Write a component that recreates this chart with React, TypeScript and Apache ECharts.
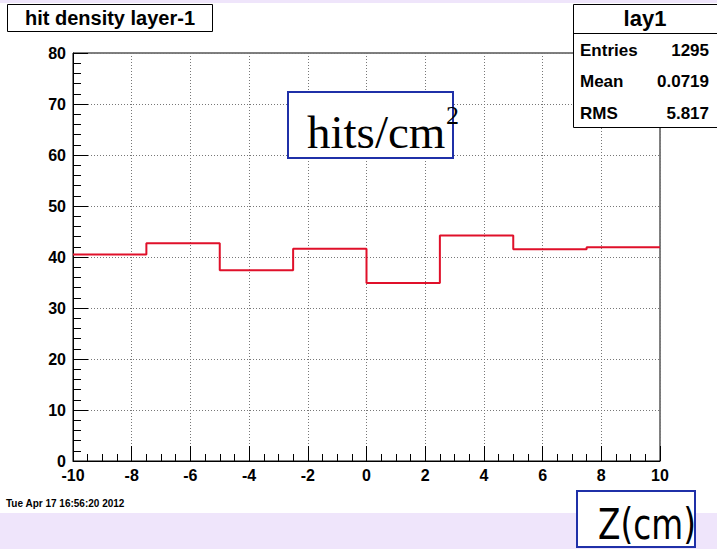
import React, { useEffect, useRef } from "react";
import * as echarts from "echarts";

// Histogram bins of hit density (hits/cm^2) along Z for layer 1
const binEdges = [-10, -7.5, -5, -2.5, 0, 2.5, 5, 7.5, 10];
const binValues = [40.5, 42.7, 37.4, 41.6, 34.9, 44.2, 41.5, 41.9];

const statLabels = ["Entries", "Mean", "RMS"];
const statValues = ["1295", "0.0719", "5.817"];

const histTitle = "hit density layer-1";
const statTitle = "lay1";
const dateStamp = "Tue Apr 17 16:56:20 2012";

export default function App() {
  const ref = useRef<HTMLDivElement>(null);

  useEffect(() => {
    if (!ref.current) return;
    const chart = echarts.init(ref.current, null, { renderer: "svg" });

    // step outline: one point per bin left edge, plus the closing right edge
    const stepData: [number, number][] = binValues.map((v, i) => [binEdges[i], v]);
    stepData.push([binEdges[binEdges.length - 1], binValues[binValues.length - 1]]);

    const axisFont = {
      color: "#000",
      fontFamily: "Liberation Sans, Arial, sans-serif",
      fontWeight: "bold" as const,
      fontSize: 16,
    };
    const dotted = { lineStyle: { color: "#777", type: [1, 2] as number[], width: 1 } };

    const statRows = statLabels.flatMap((lab, i) => [
      {
        type: "text",
        x: 580,
        y: 50 + i * 31.5,
        z: 20,
        style: {
          text: lab,
          fill: "#000",
          font: "bold 17px 'Liberation Sans', Arial, sans-serif",
          align: "left",
          verticalAlign: "middle",
        },
      },
      {
        type: "text",
        x: 709,
        y: 50 + i * 31.5,
        z: 20,
        style: {
          text: statValues[i],
          fill: "#000",
          font: "bold 17px 'Liberation Sans', Arial, sans-serif",
          align: "right",
          verticalAlign: "middle",
        },
      },
    ]);

    chart.setOption({
      animation: false,
      backgroundColor: "#efe5fb",
      grid: {
        left: 73,
        right: 57,
        top: 53,
        bottom: 88,
        show: true,
        backgroundColor: "#fff",
        borderColor: "#000",
        borderWidth: 1,
      },
      xAxis: {
        type: "value",
        min: -10,
        max: 10,
        interval: 2,
        axisLine: { show: true, onZero: false, lineStyle: { color: "#000", width: 1 } },
        axisTick: { show: true, inside: true, length: 15, lineStyle: { color: "#000" } },
        minorTick: { show: true, splitNumber: 4, length: 7, lineStyle: { color: "#000" } },
        axisLabel: { ...axisFont, margin: 6 },
        splitLine: { show: true, ...dotted },
      },
      yAxis: {
        type: "value",
        min: 0,
        max: 80,
        interval: 10,
        axisLine: { show: true, onZero: false, lineStyle: { color: "#000", width: 1 } },
        axisTick: { show: true, inside: true, length: 15, lineStyle: { color: "#000" } },
        minorTick: { show: true, splitNumber: 5, length: 8, lineStyle: { color: "#000" } },
        axisLabel: { ...axisFont, margin: 7 },
        splitLine: { show: true, ...dotted },
      },
      series: [
        {
          type: "line",
          step: "end",
          data: stepData,
          symbol: "none",
          lineStyle: { color: "#e0102a", width: 2 },
          z: 5,
        },
      ],
      graphic: [
        // white ROOT canvas above the lavender slide background
        { type: "rect", z: -10, shape: { x: 0, y: 3, width: 717, height: 510 }, style: { fill: "#fff" }, silent: true },
        // histogram title box
        {
          type: "rect",
          z: 20,
          shape: { x: 7.5, y: 4.5, width: 205, height: 27 },
          style: { fill: "#fff", stroke: "#000", lineWidth: 1 },
        },
        {
          type: "text",
          x: 110,
          y: 18,
          z: 21,
          style: {
            text: histTitle,
            fill: "#000",
            font: "bold 20px 'Liberation Sans', Arial, sans-serif",
            align: "center",
            verticalAlign: "middle",
          },
        },
        // statistics box
        {
          type: "rect",
          z: 19,
          shape: { x: 573.5, y: 4.5, width: 150, height: 123 },
          style: { fill: "#fff", stroke: "#000", lineWidth: 1 },
        },
        {
          type: "line",
          z: 20,
          shape: { x1: 573.5, y1: 33.5, x2: 717, y2: 33.5 },
          style: { stroke: "#000", lineWidth: 1 },
        },
        {
          type: "text",
          x: 645,
          y: 18,
          z: 20,
          style: {
            text: statTitle,
            fill: "#000",
            font: "bold 22px 'Liberation Sans', Arial, sans-serif",
            align: "center",
            verticalAlign: "middle",
          },
        },
        ...statRows,
        // unit annotation box
        {
          type: "rect",
          z: 20,
          shape: { x: 288, y: 92, width: 165, height: 66 },
          style: { fill: "#fff", stroke: "#1f30a8", lineWidth: 2 },
        },
        {
          type: "text",
          x: 307,
          y: 132,
          z: 21,
          style: {
            text: "hits/cm",
            fill: "#000",
            font: "47px 'Liberation Serif', 'Times New Roman', serif",
            align: "left",
            verticalAlign: "middle",
          },
        },
        {
          type: "text",
          x: 446,
          y: 115,
          z: 21,
          style: {
            text: "2",
            fill: "#000",
            font: "26px 'Liberation Serif', 'Times New Roman', serif",
            align: "left",
            verticalAlign: "middle",
          },
        },
        // axis title box
        {
          type: "rect",
          z: 20,
          shape: { x: 577, y: 491, width: 118, height: 56 },
          style: { fill: "#fff", stroke: "#1f30a8", lineWidth: 2 },
        },
        {
          type: "text",
          x: 598,
          y: 525,
          scaleX: 0.78,
          z: 21,
          style: {
            text: "Z(cm)",
            fill: "#000",
            font: "42px 'DejaVu Sans', sans-serif",
            align: "left",
            verticalAlign: "middle",
          },
        },
        // timestamp
        {
          type: "text",
          x: 6,
          y: 503,
          z: 20,
          style: {
            text: dateStamp,
            fill: "#000",
            font: "bold 10px 'Liberation Sans', Arial, sans-serif",
            align: "left",
            verticalAlign: "middle",
          },
        },
      ],
    });

    return () => chart.dispose();
  }, []);

  return (
    <div
      ref={ref}
      style={{ position: "fixed", left: 0, top: 0, width: 717, height: 549 }}
    />
  );
}
